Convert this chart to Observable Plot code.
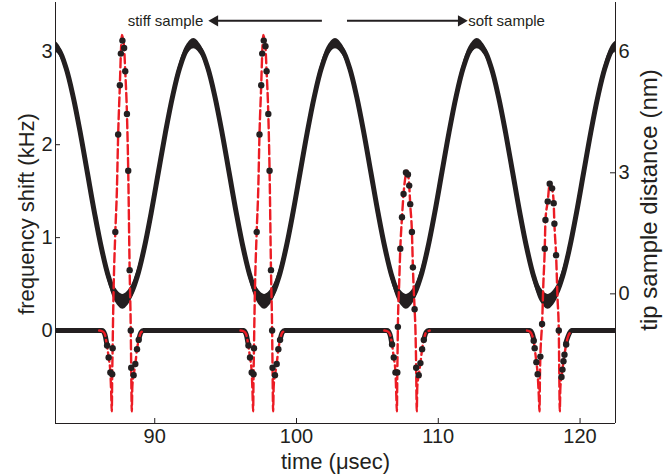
<!DOCTYPE html>
<html><head><meta charset="utf-8">
<script src="https://cdn.jsdelivr.net/npm/d3@7"></script>
<script src="https://cdn.jsdelivr.net/npm/@observablehq/plot@0.6"></script>
<style>body{margin:0;background:#fff} #chart svg{display:block}</style>
</head><body><div id="chart"></div>
<script>
// ---- axes / labels ----
const xDomain = [83, 122.5];
const yDomain = [-1, 3.53];               // frequency shift (kHz), left axis
const xTicks = [90, 100, 110, 120];
const leftTicks = [0, 1, 2, 3];
const rightTicksNm = [0, 3, 6];
const nmAnchorKHz = [0.395, 3.0];         // left-axis position of 0 nm and 6 nm
const xLabel = "time (\u03bcsec)";
const leftLabel = "frequency shift (kHz)";
const rightLabel = "tip sample distance (nm)";
const annoText = ["stiff sample", "soft sample"];
const annoT = [93.42, 112.11];
const annoY = 3.333;
const arrowFrom = [101.79, 103.56];
const arrowTo = [94.03, 111.83];

// ---- tip sample distance (nm) ----
const distT = [82.75,83.25,83.75,84.25,84.75,85.25,85.75,86.25,86.75,87.25,87.75,88.25,88.75,89.25,89.75,90.25,90.75,91.25,91.75,92.25,
  92.75,93.25,93.75,94.25,94.75,95.25,95.75,96.25,96.75,97.25,97.75,98.25,98.75,99.25,99.75,100.25,100.75,101.25,101.75,102.25,
  102.75,103.25,103.75,104.25,104.75,105.25,105.75,106.25,106.75,107.25,107.75,108.25,108.75,109.25,109.75,110.25,110.75,111.25,111.75,112.25,
  112.75,113.25,113.75,114.25,114.75,115.25,115.75,116.25,116.75,117.25,117.75,118.25,118.75,119.25,119.75,120.25,120.75,121.25,121.75,122.25,122.75];
const distNm = [6.2,6.04,5.59,4.88,3.99,3.0,2.01,1.12,0.41,-0.04,-0.2,-0.04,0.41,1.12,2.01,3.0,3.99,4.88,5.59,6.04,
  6.2,6.04,5.59,4.88,3.99,3.0,2.01,1.12,0.41,-0.04,-0.2,-0.04,0.41,1.12,2.01,3.0,3.99,4.88,5.59,6.04,
  6.2,6.04,5.59,4.88,3.99,3.0,2.01,1.12,0.41,-0.04,-0.2,-0.04,0.41,1.12,2.01,3.0,3.99,4.88,5.59,6.04,
  6.2,6.04,5.59,4.88,3.99,3.0,2.01,1.12,0.41,-0.04,-0.2,-0.04,0.41,1.12,2.01,3.0,3.99,4.88,5.59,6.04,6.2];

// ---- measured frequency shift, flat baseline parts (kHz) ----
const baseT = [83,86.28,86.48,86.6,87.7,88.85,89.03,89.2,96.25,96.45,96.57,97.7,98.82,99.0,99.17,
  106.39,106.59,106.71,107.8,108.96,109.14,109.31,116.46,116.66,116.75,117.9,119.0,119.16,119.4,122.5];
const baseF = [0,0,-0.04,-0.13,null,-0.11,-0.02,0,0,-0.04,-0.13,null,-0.11,-0.02,0,
  0,-0.04,-0.13,null,-0.11,-0.02,0,0,-0.05,-0.11,null,-0.13,-0.06,0,0];

// ---- spikes: centre time (µs), theory curve offsets (µs) / values (kHz) ----
const spikeCenters = [87.68, 97.65, 107.79, 117.86];
const theory1Off = [-1.6,-1.35,-1.2,-1.05,-0.93,-0.81,-0.75,-0.71,-0.68,-0.65,-0.62,-0.58,-0.46,-0.35,-0.26,-0.14,-0.07,0,0.08,0.16,0.24,0.36,0.45,0.55,0.63,0.66,0.70,0.74,0.83,0.95,1.07,1.19,1.35,1.6];
const theory1F   = [0,-0.01,-0.04,-0.16,-0.29,-0.45,-0.68,-0.87,-0.47,-0.19,0.12,0.45,1.06,1.51,2.11,2.64,2.98,3.18,3.14,3.04,2.79,2.33,1.72,0.65,0.0,-0.4,-0.87,-0.6,-0.48,-0.36,-0.2,-0.1,-0.02,0];
const theory2Off = [-1.6,-1.35,-1.2,-1.05,-0.93,-0.81,-0.75,-0.71,-0.68,-0.65,-0.62,-0.58,-0.46,-0.35,-0.26,-0.14,-0.07,0,0.08,0.16,0.24,0.36,0.45,0.55,0.63,0.66,0.70,0.74,0.83,0.95,1.07,1.19,1.35,1.6];
const theory2F   = [0,-0.01,-0.04,-0.16,-0.29,-0.45,-0.68,-0.87,-0.47,-0.19,0.12,0.45,1.06,1.51,2.12,2.64,2.98,3.18,3.14,3.05,2.79,2.33,1.72,0.65,0.0,-0.4,-0.87,-0.6,-0.48,-0.36,-0.2,-0.1,-0.02,0];
const theory3Off = [-1.6,-1.35,-1.2,-1.05,-0.93,-0.81,-0.75,-0.71,-0.68,-0.66,-0.64,-0.55,-0.47,-0.35,-0.24,-0.1,0,0.08,0.16,0.23,0.35,0.42,0.54,0.6,0.65,0.69,0.73,0.83,0.95,1.07,1.19,1.35,1.6];
const theory3F   = [0,-0.01,-0.04,-0.15,-0.29,-0.45,-0.7,-0.87,-0.45,-0.2,0.04,0.5,0.88,1.22,1.47,1.66,1.72,1.68,1.56,1.36,1.06,0.68,0.23,0.0,-0.4,-0.87,-0.6,-0.48,-0.35,-0.2,-0.1,-0.02,0];
const theory4Off = [-1.6,-1.4,-1.22,-1.13,-1.06,-0.94,-0.85,-0.77,-0.72,-0.69,-0.66,-0.6,-0.54,-0.45,-0.35,-0.3,-0.14,0,0.08,0.17,0.28,0.33,0.45,0.55,0.64,0.67,0.71,0.75,0.83,0.9,0.97,1.04,1.16,1.3,1.6];
const theory4F   = [0,-0.01,-0.06,-0.11,-0.19,-0.34,-0.47,-0.7,-0.87,-0.5,-0.28,-0.08,0.07,0.5,0.88,1.19,1.39,1.58,1.57,1.53,1.37,1.15,0.81,0.35,0.0,-0.4,-0.87,-0.62,-0.5,-0.42,-0.33,-0.26,-0.15,-0.06,0];

// ---- measured points on the spikes ----
const dots1Off = [-1.04,-0.93,-0.81,-0.68,-0.65,-0.46,-0.26,-0.14,-0.07,0.04,0.16,0.24,0.36,0.45,0.55,0.63,0.66,0.83,0.95,1.07,1.19];
const dots1F   = [-0.16,-0.29,-0.45,-0.47,-0.19,1.06,2.11,2.64,2.98,3.12,3.04,2.79,2.33,1.72,0.65,0.0,-0.4,-0.48,-0.36,-0.2,-0.1];
const dots2Off = [-1.04,-0.93,-0.81,-0.68,-0.65,-0.46,-0.26,-0.14,-0.07,0.04,0.16,0.24,0.36,0.45,0.55,0.63,0.66,0.83,0.95,1.07,1.19];
const dots2F   = [-0.16,-0.29,-0.45,-0.47,-0.19,1.06,2.11,2.64,2.98,3.12,3.06,2.79,2.33,1.72,0.65,0.0,-0.4,-0.48,-0.36,-0.2,-0.1];
const dots3Off = [-1.05,-0.93,-0.81,-0.68,-0.64,-0.47,-0.35,-0.24,-0.07,0.07,0.16,0.23,0.35,0.42,0.54,0.65,0.83,0.95,1.07,1.19];
const dots3F   = [-0.15,-0.29,-0.45,-0.45,0.04,0.88,1.22,1.47,1.70,1.68,1.56,1.36,1.06,0.68,0.23,-0.4,-0.48,-0.35,-0.2,-0.1];
const dots4Off = [-1.13,-1.06,-0.94,-0.85,-0.66,-0.54,-0.35,-0.3,-0.14,0,0.17,0.28,0.33,0.45,0.64,0.83,0.9,0.97,1.04,1.16];
const dots4F   = [-0.11,-0.19,-0.34,-0.47,-0.28,0.07,0.88,1.19,1.39,1.58,1.53,1.37,1.15,0.81,0.0,-0.5,-0.42,-0.33,-0.26,-0.15];

// ---- build tables ----
const ink = "#231f20";
const red = "#ec1c24";
const nm2k = d => nmAnchorKHz[0] + (nmAnchorKHz[1] - nmAnchorKHz[0]) * d / 6;
const k2nm = k => (k - nmAnchorKHz[0]) * 6 / (nmAnchorKHz[1] - nmAnchorKHz[0]);
const dist = distT.map((t, i) => ({t, k: nm2k(distNm[i]), d: distNm[i]}));
const bandHalf = d => 0.055 + 0.025 * Math.max(0, 1 - (d + 0.2) / 1.2);
const base = baseT.map((t, i) => ({t, f: baseF[i]}));
const theoryOff = [theory1Off, theory2Off, theory3Off, theory4Off];
const theoryF = [theory1F, theory2F, theory3F, theory4F];
const dotsOff = [dots1Off, dots2Off, dots3Off, dots4Off];
const dotsF = [dots1F, dots2F, dots3F, dots4F];
const theory = spikeCenters.flatMap((c, s) => theoryOff[s].map((o, i) => ({t: c + o, f: theoryF[s][i], s})));
const dots = spikeCenters.flatMap((c, s) => dotsOff[s].map((o, i) => ({t: c + o, f: dotsF[s][i]})));
const annos = annoText.map((text, i) => ({text, t: annoT[i], y: annoY}));
const arrows = arrowFrom.map((a, i) => ({x1: a, x2: arrowTo[i], y: annoY}));

const W = 670, H = 474, mL = 55, mR = 55, mT = 2, mB = 51;
const frameW = W - mL - mR, frameH = H - mT - mB;

const chart = Plot.plot({
  width: W, height: H, marginLeft: mL, marginRight: mR, marginTop: mT, marginBottom: mB,
  x: {domain: xDomain},
  y: {domain: yDomain},
  style: {fontFamily: "'Liberation Sans', Arial, Helvetica, sans-serif", fontSize: "20px", color: ink, background: "#fff"},
  marks: [
    // tip sample distance band
    Plot.areaY(dist, {x: "t", y1: d => d.k - bandHalf(d.d), y2: d => d.k + bandHalf(d.d), curve: "catmull-rom", fill: ink, clip: true}),
    Plot.line(dist, {x: "t", y: "k", curve: "catmull-rom", stroke: ink, strokeWidth: 5, clip: true}),
    // measured baseline
    Plot.line(base, {x: "t", y: "f", curve: "monotone-x", stroke: ink, strokeWidth: 5, strokeLinecap: "round", clip: true}),
    // theory (red dashed)
    Plot.line(theory, {x: "t", y: "f", z: "s", curve: "monotone-x", stroke: red, strokeWidth: 2.4, strokeDasharray: "9,4", clip: true}),
    // measured points
    Plot.dot(dots, {x: "t", y: "f", r: 3.2, fill: ink, stroke: "none", clip: true}),
    // annotations: shafts + filled heads
    Plot.link(arrows, {x1: "x1", x2: "x2", y1: "y", y2: "y", stroke: ink, strokeWidth: 2}),
    Plot.dot([arrows[0]], {x: "x2", y: "y", symbol: "triangle", r: 4.2, rotate: -90, dx: 3, fill: ink, stroke: "none"}),
    Plot.dot([arrows[1]], {x: "x2", y: "y", symbol: "triangle", r: 4.2, rotate: 90, dx: -3, fill: ink, stroke: "none"}),
    Plot.text([annos[0]], {x: "t", y: "y", text: "text", textAnchor: "end", fontSize: 15, fill: ink}),
    Plot.text([annos[1]], {x: "t", y: "y", text: "text", textAnchor: "start", fontSize: 15, fill: ink}),
    // frame
    Plot.ruleX(xDomain, {stroke: ink, strokeWidth: 1}),
    Plot.ruleY([yDomain[0]], {stroke: ink, strokeWidth: 1}),
    // inward ticks
    Plot.tickY(leftTicks, {y: d => d, insetRight: frameW - 5, stroke: ink}),
    Plot.tickY(rightTicksNm, {y: d => nm2k(d), insetLeft: frameW - 5, stroke: ink}),
    Plot.tickX(xTicks, {x: d => d, insetTop: frameH - 5, stroke: ink}),
    // axes
    Plot.axisX(xTicks, {anchor: "bottom", tickSize: 0, tickPadding: 5, label: null, fontSize: 20, tickFormat: d => String(d)}),
    Plot.axisY(leftTicks, {anchor: "left", tickSize: 0, tickPadding: 3, label: null, fontSize: 20, tickFormat: d => String(d)}),
    Plot.axisY(rightTicksNm.map(nm2k), {anchor: "right", tickSize: 0, tickPadding: 3, label: null, fontSize: 20,
      tickFormat: k => String(Math.round(k2nm(k)))}),
    // axis titles
    Plot.text([xLabel], {frameAnchor: "bottom", textAnchor: "middle", lineAnchor: "middle", dy: 38, fontSize: 22, fill: ink}),
    Plot.text([leftLabel], {frameAnchor: "left", textAnchor: "middle", lineAnchor: "middle", dx: -29, dy: 1, rotate: -90, fontSize: 22, fill: ink}),
    Plot.text([rightLabel], {frameAnchor: "right", textAnchor: "middle", lineAnchor: "middle", dx: 34, dy: -13, rotate: -90, fontSize: 24, fill: ink})
  ]
});
document.getElementById("chart").append(chart);
</script>
</body></html>
